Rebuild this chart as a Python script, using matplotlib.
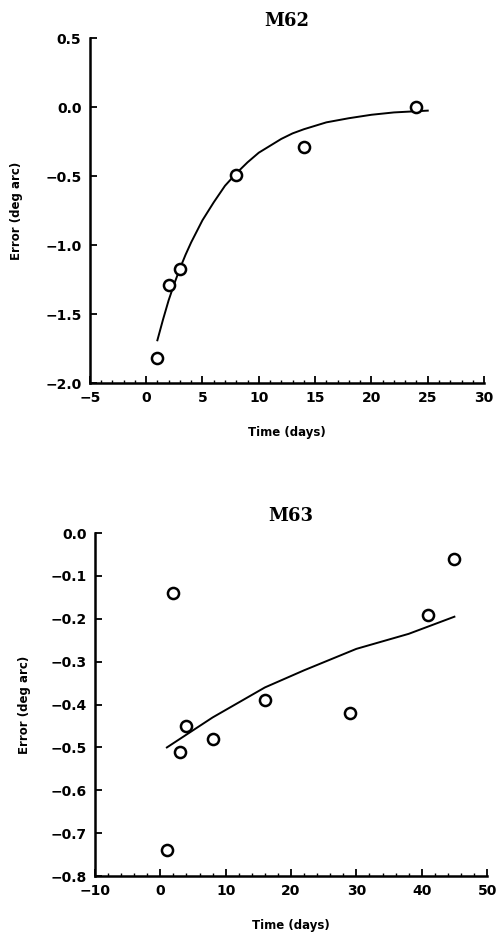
import numpy as np
import matplotlib
matplotlib.use('Agg')
from matplotlib import pyplot as plt
from matplotlib.ticker import MultipleLocator

# M62 observations
m62_t = [1, 2, 3, 8, 14, 24]
m62_err = [-1.82, -1.29, -1.17, -0.49, -0.29, 0.0]
# M62 fitted curve
m62_fit_t = [1, 1.5, 2, 2.5, 3, 3.5, 4, 5, 6, 7, 8, 9, 10, 11, 12, 13, 14,
             16, 18, 20, 22, 25]
m62_fit_err = [-1.69, -1.54, -1.40, -1.28, -1.17, -1.07, -0.98, -0.82, -0.69,
               -0.57, -0.48, -0.40, -0.33, -0.28, -0.23, -0.19, -0.16,
               -0.11, -0.08, -0.055, -0.038, -0.025]

# M63 observations
m63_t = [1, 2, 3, 4, 8, 16, 29, 41, 45]
m63_err = [-0.74, -0.14, -0.51, -0.45, -0.48, -0.39, -0.42, -0.19, -0.06]
# M63 fitted line
m63_fit_t = [1, 4, 8, 12, 16, 22, 30, 38, 45]
m63_fit_err = [-0.50, -0.47, -0.43, -0.395, -0.36, -0.32, -0.27, -0.235, -0.195]

plt.rcParams['font.family'] = 'DejaVu Sans'
plt.rcParams['font.weight'] = 'bold'

fig = plt.figure(figsize=(4.96, 9.32), dpi=100)
ax1 = fig.add_axes([0.181, 0.589, 0.795, 0.370])
ax2 = fig.add_axes([0.1915, 0.060, 0.7905, 0.368])


def style(ax, title, xmaj, xmin_, ymaj, ylpad):
    for s in ['top', 'right']:
        ax.spines[s].set_visible(False)
    for s in ['left', 'bottom']:
        ax.spines[s].set_linewidth(1.8)
    ax.xaxis.set_major_locator(MultipleLocator(xmaj))
    ax.xaxis.set_minor_locator(MultipleLocator(xmin_))
    ax.yaxis.set_major_locator(MultipleLocator(ymaj))
    ax.tick_params(which='major', direction='in', length=5, width=1.3,
                   labelsize=10, pad=6)
    ax.tick_params(which='minor', direction='in', length=2.5, width=1)
    ax.tick_params(axis='y', which='minor', left=False)
    for lab in ax.get_xticklabels() + ax.get_yticklabels():
        lab.set_fontweight('bold')
    ax.set_title(title, fontsize=13, fontweight='bold',
                 family='DejaVu Serif', pad=9)
    ax.set_xlabel('Time (days)', fontsize=8.5, fontweight='bold', labelpad=15)
    ax.set_ylabel('Error (deg arc)', fontsize=8.5, fontweight='bold',
                  labelpad=ylpad)


ax1.plot(m62_fit_t, m62_fit_err, color='black', lw=1.4)
ax1.plot(m62_t, m62_err, 'o', ms=8, mfc='white', mec='black', mew=1.8)
ax1.set_xlim(-5, 30)
ax1.set_ylim(-2.0, 0.5)
style(ax1, 'M62', 5, 1, 0.5, 16)

ax2.plot(m63_fit_t, m63_fit_err, color='black', lw=1.4)
ax2.plot(m63_t, m63_err, 'o', ms=8, mfc='white', mec='black', mew=1.8)
ax2.set_xlim(-10, 50)
ax2.set_ylim(-0.8, 0.0)
style(ax2, 'M63', 10, 2, 0.1, 14)

fig.savefig('out.png', dpi=100)
